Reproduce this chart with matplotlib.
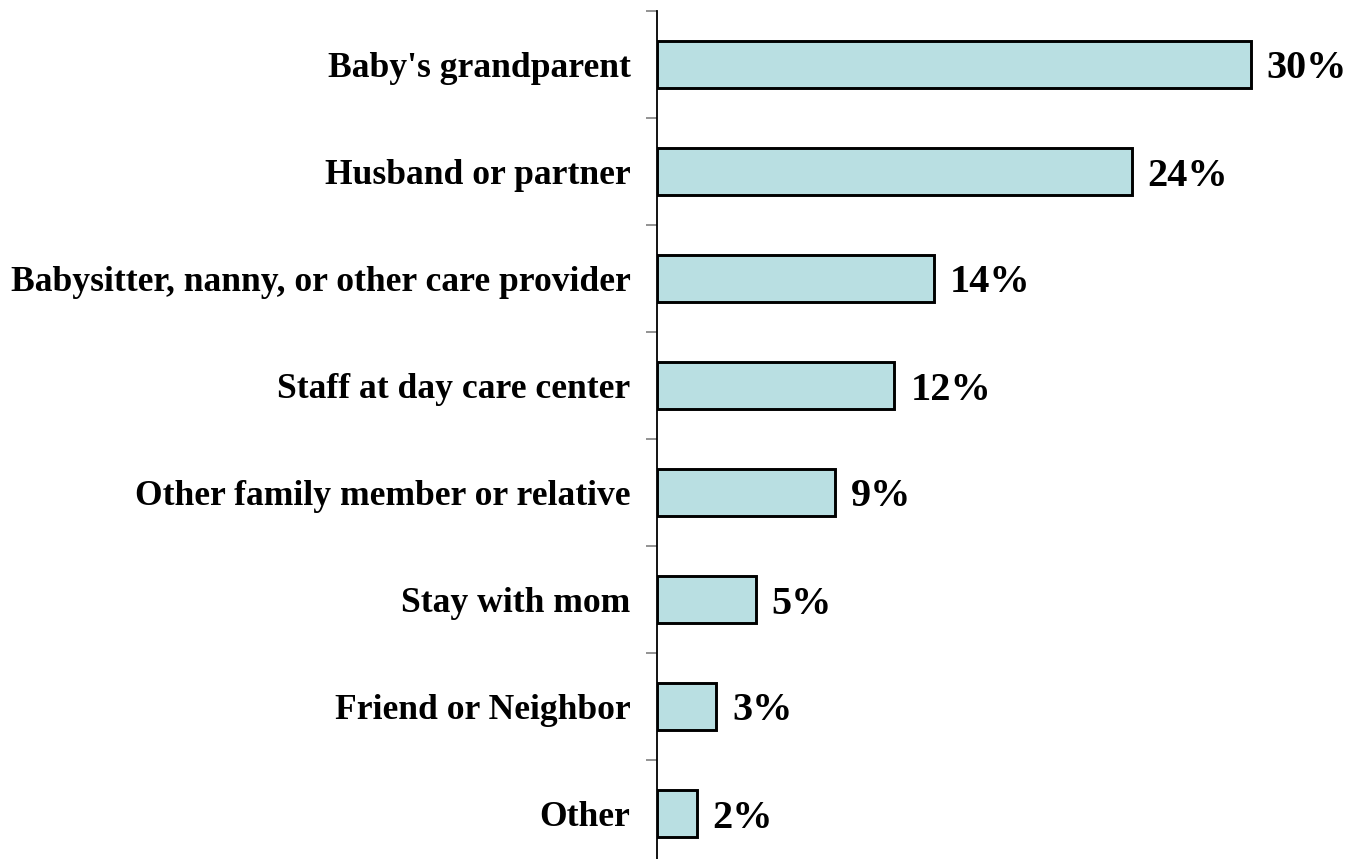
import matplotlib
matplotlib.use("Agg")
import matplotlib.pyplot as plt

categories = ["Baby's grandparent", "Husband or partner",
              "Babysitter, nanny, or other care provider",
              "Staff at day care center", "Other family member or relative",
              "Stay with mom", "Friend or Neighbor", "Other"]
values = [30, 24, 14, 12, 9, 5, 3, 2]

plt.rcParams["font.family"] = "Liberation Serif"
plt.rcParams["font.weight"] = "bold"

fig = plt.figure(figsize=(13.56, 8.59), dpi=100)
ax = fig.add_axes([657 / 1356, -8 / 859, 653 / 1356, 856 / 859])

pos = list(range(len(categories)))
ax.barh(pos, values, height=0.44, color="#B9DFE2", edgecolor="black", linewidth=2.1)
ax.set_ylim(len(categories) - 0.5, -0.5)
ax.set_xlim(0, 33)

# gray ticks between categories, labels sit on the bar centres
ax.set_yticks([p - 0.5 for p in pos] + [len(categories) - 0.5])
ax.set_yticklabels([])
ax.set_yticks(pos, minor=True)
ax.set_yticklabels(categories, minor=True, fontsize=25.6, fontweight="bold")
ax.tick_params(axis="y", which="major", length=8, width=1.2, color="#808080")
ax.tick_params(axis="y", which="minor", length=0, pad=19)
ax.set_xticks([])

for s in ["top", "right", "bottom"]:
    ax.spines[s].set_visible(False)
ax.spines["left"].set_linewidth(1.3)

for p, v in zip(pos, values):
    ax.text(v + 0.8, p, f"{v}%", va="center_baseline", ha="left", fontsize=29, fontweight="bold")

fig.savefig("out.png", dpi=100)
